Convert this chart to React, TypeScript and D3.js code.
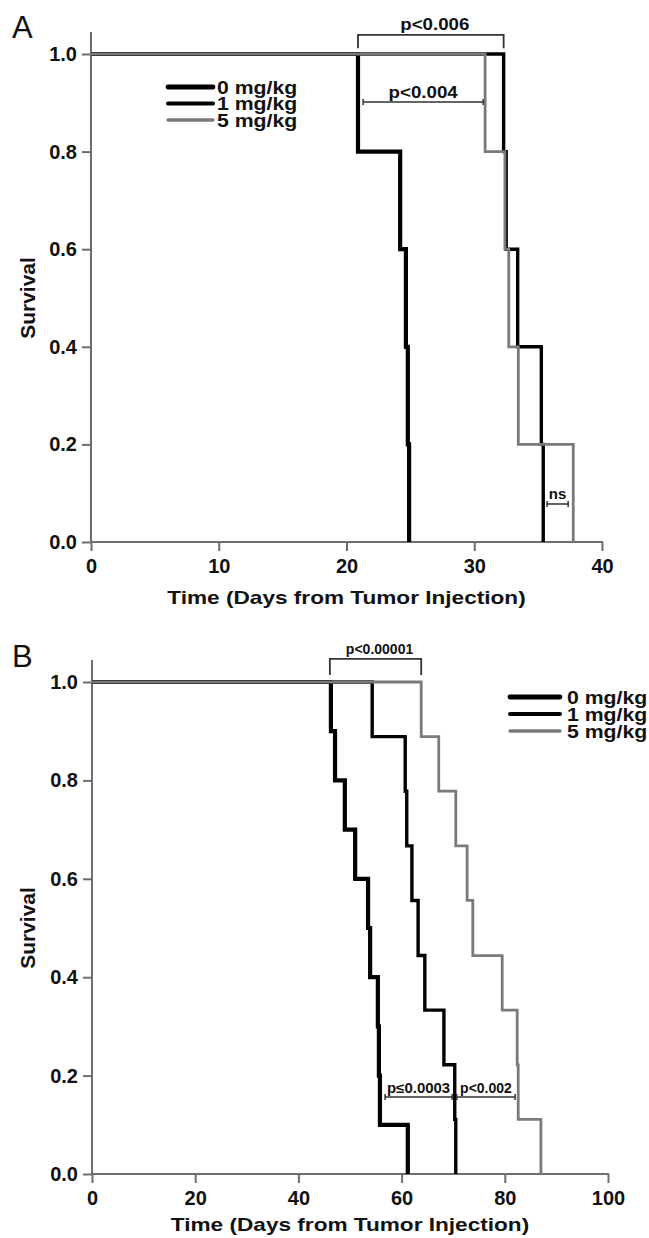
import React, { useEffect, useRef } from 'react';
import * as d3 from 'd3';

const groups = ['0 mg/kg', '1 mg/kg', '5 mg/kg'];

// panel A: day of each death and survival after it
const timesA0 = [20.9, 24.2, 24.65, 24.8, 24.9];
const survA0 = [0.8, 0.6, 0.4, 0.2, 0.0];
const timesA1 = [32.3, 32.5, 33.4, 35.25, 35.4];
const survA1 = [0.8, 0.6, 0.4, 0.2, 0.0];
const timesA5 = [30.85, 32.4, 32.7, 33.45, 37.75];
const survA5 = [0.8, 0.6, 0.4, 0.2, 0.0];

// panel B
const timesB0 = [46.3, 47.1, 49.0, 51.0, 53.5, 53.9, 55.4, 55.6, 55.8, 61.2];
const survB0 = [0.9, 0.8, 0.7, 0.6, 0.5, 0.4, 0.3, 0.2, 0.1, 0.0];
const timesB1 = [54.3, 60.7, 61.0, 62.0, 63.2, 64.5, 68.2, 70.3, 70.5];
const survB1 = [0.889, 0.778, 0.667, 0.556, 0.444, 0.333, 0.222, 0.111, 0.0];
const timesB5 = [63.8, 67.2, 70.5, 72.7, 73.8, 79.5, 82.4, 82.6, 87.0];
const survB5 = [0.889, 0.778, 0.667, 0.556, 0.444, 0.333, 0.222, 0.111, 0.0];

const dayTicksA = [0, 10, 20, 30, 40];
const dayTicksB = [0, 20, 40, 60, 80, 100];
const survTicks = [0, 0.2, 0.4, 0.6, 0.8, 1.0];

// p-value annotations (days, survival)
const bracketsA = [
  { label: 'p<0.006', x1: 20.9, x2: 32.3, y: 1.039, legs: 1.012, size: 17, sx: 1.1 },
  { label: 'p<0.004', x1: 21.3, x2: 30.7, y: 0.9016, legs: null, size: 17, sx: 1.1 },
  { label: 'ns', x1: 35.7, x2: 37.35, y: 0.078, legs: null, size: 15, sx: 1.0 },
];
const bracketsB = [
  { label: 'p<0.00001', x1: 46.1, x2: 63.8, y: 1.047, legs: 1.014, size: 14, sx: 1.0 },
  { label: 'p≤0.0003', x1: 56.8, x2: 69.8, y: 0.1565, legs: null, size: 14, sx: 1.07 },
  { label: 'p<0.002', x1: 70.7, x2: 82.0, y: 0.1565, legs: null, size: 14, sx: 1.0 },
];

const FONT = '"Liberation Sans", Arial, Helvetica, sans-serif';
const AXIS = '#6e6e6e';
const GRAY = '#7a7a7a';

const App = () => {
  const ref = useRef(null);

  useEffect(() => {
    const svg = d3.select(ref.current);
    svg.selectAll('*').remove();

    const addText = (g, x, y, str, size, anchor, sx, weight = 'bold', rotate = 0) => {
      g.append('text')
        .attr('transform', `translate(${x},${y}) rotate(${rotate}) scale(${sx},1)`)
        .attr('text-anchor', anchor)
        .attr('font-family', FONT)
        .attr('font-size', size)
        .attr('font-weight', weight)
        .attr('fill', '#111')
        .text(str);
    };

    const panels = [
      {
        letter: 'A',
        letterY: 38,
        titleGap: 62,
        x: d3.scaleLinear().domain([0, 40]).range([91, 602]),
        y: d3.scaleLinear().domain([0, 1]).range([542, 54]),
        ticks: dayTicksA,
        curves: [
          { t: timesA0, s: survA0, color: '#000', w: 4.2 },
          { t: timesA1, s: survA1, color: '#000', w: 3.4 },
          { t: timesA5, s: survA5, color: GRAY, w: 2.8 },
        ],
        legend: { x1: 168, x2: 213, tx: 217, ys: [87, 103.5, 120] },
        brackets: bracketsA,
      },
      {
        letter: 'B',
        letterY: 667,
        titleGap: 57,
        x: d3.scaleLinear().domain([0, 100]).range([92, 608]),
        y: d3.scaleLinear().domain([0, 1]).range([1174, 682]),
        ticks: dayTicksB,
        curves: [
          { t: timesB0, s: survB0, color: '#000', w: 4.2 },
          { t: timesB1, s: survB1, color: '#000', w: 3.4 },
          { t: timesB5, s: survB5, color: GRAY, w: 2.8 },
        ],
        legend: { x1: 510, x2: 560, tx: 567, ys: [697, 714, 731] },
        brackets: bracketsB,
      },
    ];

    panels.forEach(p => {
      const g = svg.append('g');
      const { x, y } = p;
      const x0 = x.range()[0];
      const x1 = x.range()[1];
      const y0 = y.range()[0];
      const yTop = y.range()[1];

      addText(g, 12, p.letterY, p.letter, 31, 'start', 1, 'normal');

      // axes
      const yAxis = d3.axisLeft(y).tickValues(survTicks).tickFormat(d3.format('.1f'))
        .tickSize(9).tickPadding(5).tickSizeOuter(0);
      const ya = g.append('g').attr('transform', `translate(${x0},0)`).call(yAxis);
      const xAxis = d3.axisBottom(x).tickValues(p.ticks).tickFormat(d3.format('d'))
        .tickSize(9).tickPadding(8).tickSizeOuter(0);
      const xa = g.append('g').attr('transform', `translate(0,${y0})`).call(xAxis);
      [ya, xa].forEach(a => {
        a.select('.domain').remove();
        a.selectAll('line').attr('stroke', AXIS).attr('stroke-width', 2);
        a.selectAll('text')
          .attr('font-family', FONT)
          .attr('font-size', 20)
          .attr('font-weight', 'bold')
          .attr('fill', '#111');
      });
      g.append('line').attr('x1', x0).attr('x2', x0).attr('y1', y0 + 1).attr('y2', yTop - 22)
        .attr('stroke', AXIS).attr('stroke-width', 2);
      g.append('line').attr('x1', x0 - 1).attr('x2', x1 + 1).attr('y1', y0).attr('y2', y0)
        .attr('stroke', AXIS).attr('stroke-width', 2);

      addText(g, (x0 + x1) / 2, y0 + p.titleGap, 'Time (Days from Tumor Injection)', 19, 'middle', 1.19);
      addText(g, 35, (y0 + yTop) / 2, 'Survival', 21, 'middle', 1, 'bold', -90);

      // survival curves
      const line = d3.line().x(d => x(d[0])).y(d => y(d[1])).curve(d3.curveStepAfter);
      p.curves.forEach(c => {
        const pts = [[0, 1], ...c.t.map((t, i) => [t, c.s[i]])];
        g.append('path').attr('d', line(pts)).attr('fill', 'none')
          .attr('stroke', c.color).attr('stroke-width', c.w)
          .attr('stroke-linejoin', 'miter');
      });

      // legend
      groups.forEach((name, i) => {
        const c = p.curves[i];
        const ly = p.legend.ys[i];
        g.append('line').attr('x1', p.legend.x1).attr('x2', p.legend.x2)
          .attr('y1', ly).attr('y2', ly)
          .attr('stroke', c.color).attr('stroke-width', c.w + 0.6)
          .attr('stroke-linecap', 'round');
        addText(g, p.legend.tx, ly + 6.5, name, 18, 'start', 1.18);
      });

      // p-value brackets
      p.brackets.forEach(b => {
        const bx1 = x(b.x1);
        const bx2 = x(b.x2);
        const by = y(b.y);
        if (b.legs !== null) {
          const ly = y(b.legs);
          g.append('path').attr('d', `M${bx1},${ly}V${by}H${bx2}V${ly}`)
            .attr('fill', 'none').attr('stroke', '#333').attr('stroke-width', 1.8);
        } else {
          g.append('path')
            .attr('d', `M${bx1},${by}H${bx2}M${bx1},${by - 3}V${by + 3}M${bx2},${by - 3}V${by + 3}`)
            .attr('fill', 'none').attr('stroke', '#333').attr('stroke-width', 1.5);
        }
        addText(g, (bx1 + bx2) / 2 + (b.legs !== null ? 4 : 0), by - 4.5, b.label, b.size, 'middle', b.sx);
      });
    });
  }, []);

  return (
    <svg
      ref={ref}
      width={649}
      height={1238}
      style={{ position: 'absolute', left: 0, top: 0, background: '#fff', display: 'block' }}
    />
  );
};

export default App;
